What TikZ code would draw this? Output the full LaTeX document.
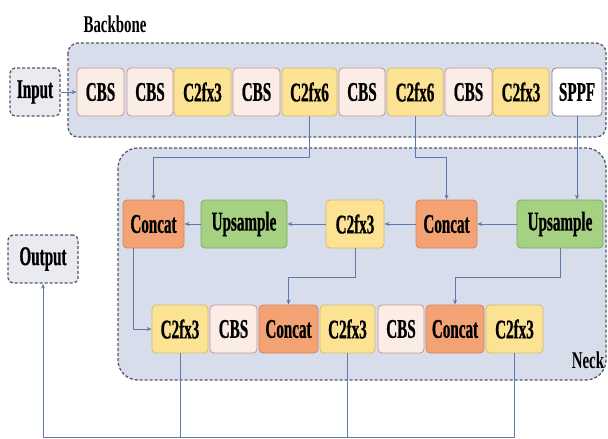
\documentclass[tikz,border=0pt]{standalone}
\usepackage{fontspec}
\setmainfont{Liberation Serif}[FakeStretch=0.56, FakeBold=0.8]
\newfontfamily\labelfont{Liberation Serif}[FakeStretch=0.62]
\usetikzlibrary{arrows.meta}
\definecolor{grpfill}{RGB}{216,221,235}
\definecolor{grpline}{RGB}{85,88,100}
\definecolor{iofill}{RGB}{234,235,240}
\definecolor{cbsfill}{RGB}{252,236,230}
\definecolor{cbsline}{RGB}{196,150,145}
\definecolor{cffill}{RGB}{252,227,148}
\definecolor{cfline}{RGB}{214,186,110}
\definecolor{catfill}{RGB}{243,162,116}
\definecolor{catline}{RGB}{214,132,92}
\definecolor{upfill}{RGB}{166,208,130}
\definecolor{upline}{RGB}{120,170,92}
\definecolor{linkc}{RGB}{92,122,172}
\tikzset{
  blk/.style={draw, rounded corners=4pt, minimum height=48pt, inner sep=0pt, line width=0.8pt},
  cbs/.style={blk, fill=cbsfill, draw=cbsline},
  cf/.style={blk, fill=cffill, draw=cfline},
  cat/.style={blk, fill=catfill, draw=catline},
  up/.style={blk, fill=upfill, draw=upline},
  sppf/.style={blk, fill=white, draw=gray},
  group/.style={draw=grpline, fill=grpfill, line width=1.3pt, dash pattern=on 3pt off 2pt},
  iobox/.style={group, fill=iofill, rounded corners=5pt, minimum height=48pt, inner sep=0pt},
  grouplabel/.style={font=\labelfont\bfseries\fontsize{24}{26}\selectfont},
  link/.style={draw=linkc, line width=0.9pt}
}
\begin{document}
\begin{tikzpicture}[x=1pt, y=-1pt, font=\bfseries\fontsize{27}{29}\selectfont, line join=round, >={Stealth[length=5pt,width=4pt]}]
\useasboundingbox (0,0) rectangle (608,439);

\draw[group, rounded corners=10pt] (68,43) rectangle (606,137);
\draw[group, rounded corners=20pt] (118,148) rectangle (606,380);
\node[grouplabel] (bblabel) at (115,24) {Backbone};
\node[grouplabel] (nklabel) at (588,360) {Neck};

\node[iobox, minimum width=50pt] (in) at (35,92) {Input};
\node[iobox, minimum width=70pt] (out) at (43,259) {Output};

\node[cbs, minimum width=47pt] (b1) at (100.5,92) {CBS};
\node[cbs, minimum width=46pt] (b2) at (150,92) {CBS};
\node[cf, minimum width=57pt] (b3) at (202.5,92) {C2fx3};
\node[cbs, minimum width=47pt] (b4) at (256.5,92) {CBS};
\node[cf, minimum width=55pt] (b5) at (309.5,92) {C2fx6};
\node[cbs, minimum width=46pt] (b6) at (362,92) {CBS};
\node[cf, minimum width=56pt] (b7) at (415,92) {C2fx6};
\node[cbs, minimum width=47pt] (b8) at (468.5,92) {CBS};
\node[cf, minimum width=56pt] (b9) at (521,92) {C2fx3};
\node[sppf, minimum width=50pt] (b10) at (577,92) {SPPF};

\node[cat, minimum width=61pt] (n1) at (153.5,224) {Concat};
\node[up, minimum width=86pt] (n2) at (244,224) {Upsample};
\node[cf, minimum width=58pt] (n3) at (355,224) {C2fx3};
\node[cat, minimum width=61pt] (n4) at (446.5,224) {Concat};
\node[up, minimum width=86pt] (n5) at (560,224) {Upsample};

\node[cf, minimum width=56pt] (m1) at (180,329) {C2fx3};
\node[cbs, minimum width=47pt] (m2) at (233.5,329) {CBS};
\node[cat, minimum width=59pt] (m3) at (288.5,329) {Concat};
\node[cf, minimum width=55pt] (m4) at (347.5,329) {C2fx3};
\node[cbs, minimum width=46pt] (m5) at (401,329) {CBS};
\node[cat, minimum width=58pt] (m6) at (455,329) {Concat};
\node[cf, minimum width=57pt] (m7) at (514.5,329) {C2fx3};

\coordinate (bus) at (43,437);

\draw[link,->] (in) -- (b1);
\draw[link,->] (b5.south) -- ++(0,41) -| (n1.north);
\draw[link,->] (b7.south) -- ++(0,41) -| (n4.north);
\draw[link,->] (b10.south) -- (b10.south |- n5.north);
\draw[link,->] (n5) -- (n4);
\draw[link,->] (n4) -- (n3);
\draw[link,->] (n3) -- (n2);
\draw[link,->] (n2) -- (n1);
\draw[link,->] ([xshift=-20pt]n1.south) |- (m1.west);
\draw[link,->] (n3.south) -- ++(0,29) -| (m3.north);
\draw[link,->] (n5.south) -- ++(0,29) -| (m6.north);
\draw[link,->] (m7.south) |- (bus) -- (out.south);
\draw[link] (m1.south) -- (m1.south |- bus);
\draw[link] (m4.south) -- (m4.south |- bus);
\end{tikzpicture}
\end{document}
